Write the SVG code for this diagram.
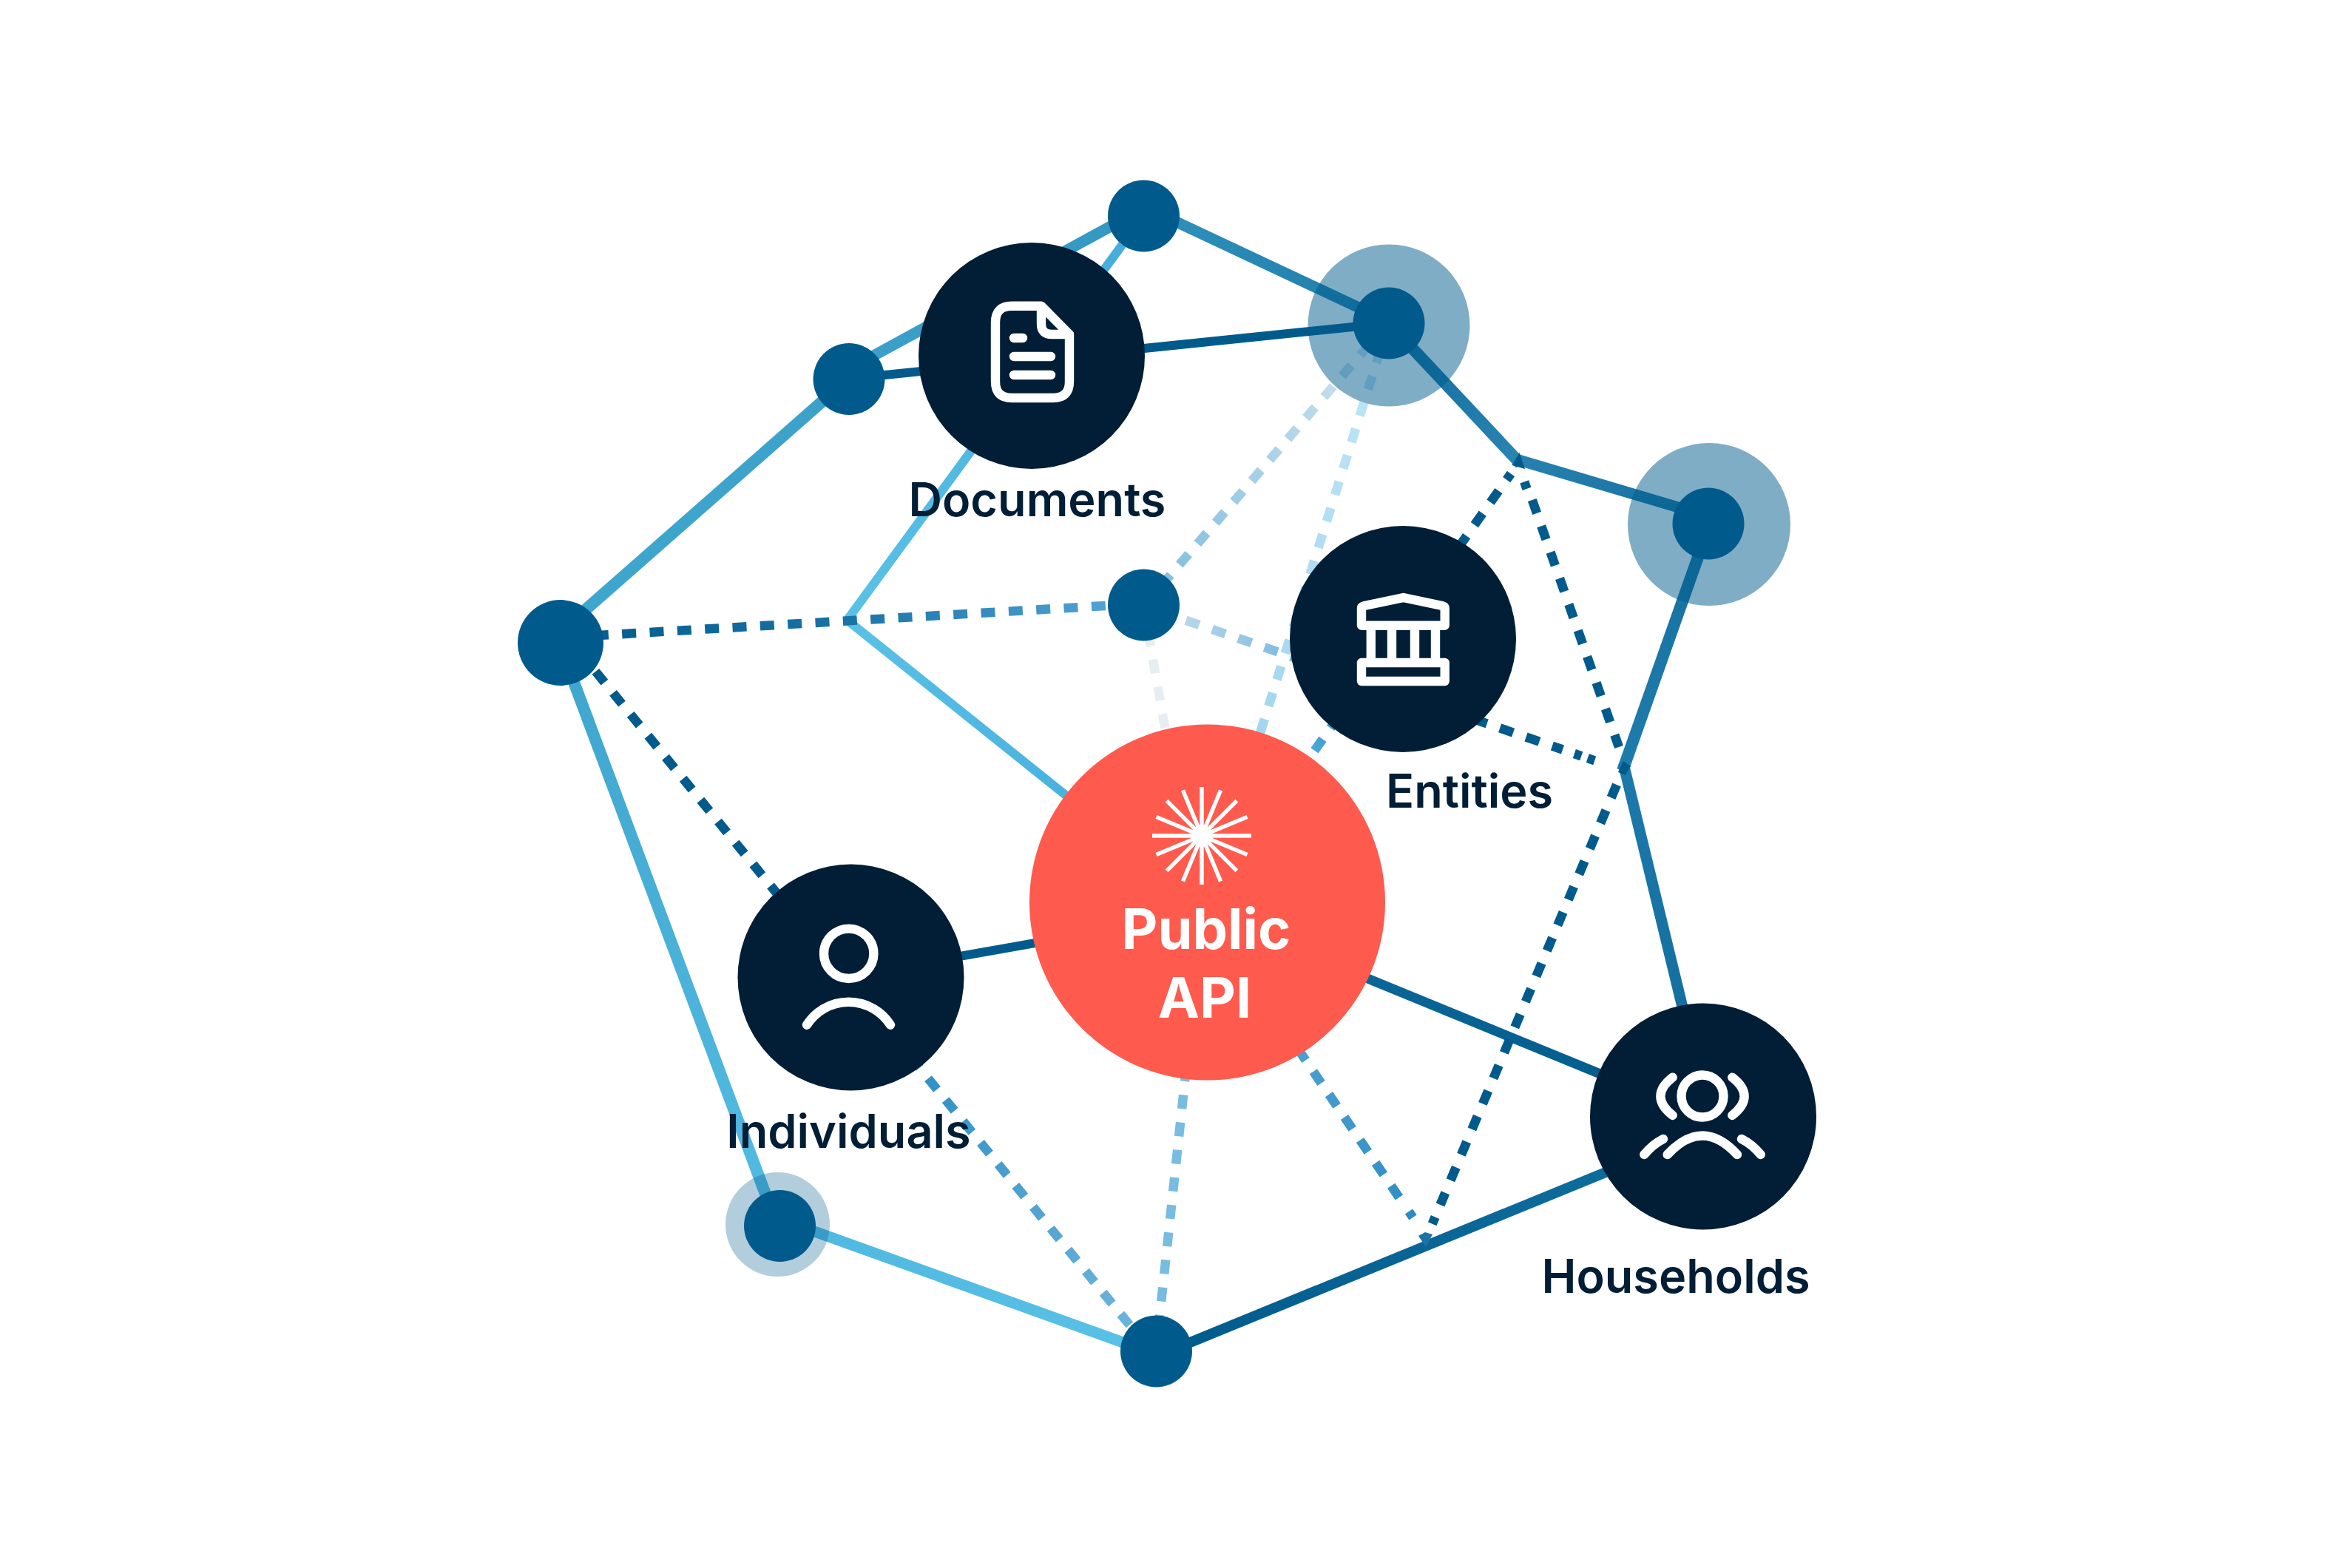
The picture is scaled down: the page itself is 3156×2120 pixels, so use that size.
<svg xmlns="http://www.w3.org/2000/svg" width="3156" height="2120" viewBox="0 0 3156 2120">
<style>
.s{fill:none;stroke-linecap:butt}
.d{fill:none;stroke-width:12.5;stroke-dasharray:19 18.4}
.dot{fill:#005B8C}
.big{fill:#011E36}
.halo{fill:#005B8C;opacity:.5}
.ic{fill:none;stroke:#fff;stroke-width:12.4;stroke-linecap:round;stroke-linejoin:round}
.ray{stroke:#fff;stroke-width:5.5;fill:none}
.lb{font-family:Inter,"Liberation Sans",sans-serif;font-weight:600;font-size:63px;fill:#011E36;text-anchor:middle}
.api{font-family:Inter,"Liberation Sans",sans-serif;font-weight:700;font-size:75.500px;fill:#fff;text-anchor:middle}
</style>
<defs>
<linearGradient id="g1" gradientUnits="userSpaceOnUse" x1="758" y1="854" x2="1148" y2="511"><stop offset="0" stop-color="#3FA7CF"/><stop offset="1" stop-color="#3CA1C9"/></linearGradient>
<linearGradient id="g2" gradientUnits="userSpaceOnUse" x1="1148" y1="499" x2="1546" y2="282"><stop offset="0" stop-color="#3CA1C9"/><stop offset="1" stop-color="#3397C1"/></linearGradient>
<linearGradient id="g3" gradientUnits="userSpaceOnUse" x1="1546" y1="279" x2="1878" y2="435"><stop offset="0" stop-color="#2F92BC"/><stop offset="1" stop-color="#1F7CA9"/></linearGradient>
<linearGradient id="g4" gradientUnits="userSpaceOnUse" x1="1878" y1="437" x2="2054" y2="625"><stop offset="0" stop-color="#0F6A9B"/><stop offset="1" stop-color="#2A85B3"/></linearGradient>
<linearGradient id="g5" gradientUnits="userSpaceOnUse" x1="2054" y1="622" x2="2310" y2="698"><stop offset="0" stop-color="#2681AF"/><stop offset="1" stop-color="#1670A0"/></linearGradient>
<linearGradient id="g6" gradientUnits="userSpaceOnUse" x1="2312" y1="708" x2="2196" y2="1037"><stop offset="0" stop-color="#1670A0"/><stop offset="1" stop-color="#1E7CAB"/></linearGradient>
<linearGradient id="g7" gradientUnits="userSpaceOnUse" x1="2196" y1="1037" x2="2311" y2="1510"><stop offset="0" stop-color="#1C79A9"/><stop offset="1" stop-color="#106B9C"/></linearGradient>
<linearGradient id="g8" gradientUnits="userSpaceOnUse" x1="1546" y1="292" x2="1145" y2="839"><stop offset="0" stop-color="#44ACDC"/><stop offset="1" stop-color="#5AC1E6"/></linearGradient>
<linearGradient id="g9" gradientUnits="userSpaceOnUse" x1="1145" y1="838" x2="1632" y2="1228"><stop offset="0" stop-color="#5AC1E6"/><stop offset="1" stop-color="#3FA8DA"/></linearGradient>
<linearGradient id="g10" gradientUnits="userSpaceOnUse" x1="756" y1="869" x2="1051" y2="1657"><stop offset="0" stop-color="#3FA5CD"/><stop offset="1" stop-color="#54BBE2"/></linearGradient>
<linearGradient id="g11" gradientUnits="userSpaceOnUse" x1="1054" y1="1648" x2="1563" y2="1831"><stop offset="0" stop-color="#4FB8E0"/><stop offset="1" stop-color="#5AC1E6"/></linearGradient>
<linearGradient id="g12" gradientUnits="userSpaceOnUse" x1="1563" y1="1834" x2="2303" y2="1531"><stop offset="0" stop-color="#005B8C"/><stop offset="1" stop-color="#11709F"/></linearGradient>
<linearGradient id="g13" gradientUnits="userSpaceOnUse" x1="1632" y1="1234" x2="2303" y2="1509"><stop offset="0" stop-color="#106B9D"/><stop offset="1" stop-color="#005B8C"/></linearGradient>
<linearGradient id="d1" gradientUnits="userSpaceOnUse" x1="758" y1="862" x2="1546" y2="816"><stop offset="0" stop-color="#005B8C"/><stop offset=".5" stop-color="#1A73A8"/><stop offset="1" stop-color="#59A9DA"/></linearGradient>
<linearGradient id="d2" gradientUnits="userSpaceOnUse" x1="758" y1="850" x2="1563" y2="1835"><stop offset="0" stop-color="#005B8C"/><stop offset=".45" stop-color="#005B8C"/><stop offset=".6" stop-color="#2E8FC6"/><stop offset="1" stop-color="#74B8DE"/></linearGradient>
<linearGradient id="d3" gradientUnits="userSpaceOnUse" x1="1546" y1="820" x2="1878" y2="435"><stop offset="0" stop-color="#7DBBDF"/><stop offset="1" stop-color="#D5E7F0"/></linearGradient>
<linearGradient id="d4" gradientUnits="userSpaceOnUse" x1="1546" y1="819" x2="2196" y2="1042"><stop offset="0" stop-color="#D0E3EE"/><stop offset=".3" stop-color="#7DBBDF"/><stop offset=".7" stop-color="#005B8C"/><stop offset="1" stop-color="#005B8C"/></linearGradient>
<linearGradient id="d5" gradientUnits="userSpaceOnUse" x1="1878" y1="437" x2="1632" y2="1220"><stop offset="0" stop-color="#C1E6F7"/><stop offset="1" stop-color="#96D0EC"/></linearGradient>
<linearGradient id="d6" gradientUnits="userSpaceOnUse" x1="2054" y1="625" x2="1632" y2="1220"><stop offset="0" stop-color="#005B8C"/><stop offset=".4" stop-color="#005B8C"/><stop offset=".65" stop-color="#4BA6D8"/><stop offset="1" stop-color="#67B2DC"/></linearGradient>
<linearGradient id="d7" gradientUnits="userSpaceOnUse" x1="1620" y1="1220" x2="1930" y2="1675"><stop offset="0" stop-color="#62B0DC"/><stop offset="1" stop-color="#2B8BC3"/></linearGradient>
</defs>
<rect width="3156" height="2120" fill="#fff"/>
<g id="connectors">
<line class="s" stroke="url(#g1)" stroke-width="16" x1="758" y1="854" x2="1148" y2="511"/>
<line class="s" stroke="url(#g2)" stroke-width="15" x1="1148" y1="499" x2="1546" y2="282"/>
<line class="s" stroke="url(#g3)" stroke-width="15" x1="1546" y1="279" x2="1878" y2="435"/>
<line class="s" stroke="url(#g4)" stroke-width="16" x1="1878" y1="437" x2="2056" y2="627"/>
<line class="s" stroke="url(#g5)" stroke-width="15" x1="2052" y1="621.500" x2="2310" y2="698"/>
<line class="s" stroke="url(#g6)" stroke-width="16" x1="2312" y1="708" x2="2194" y2="1042"/>
<line class="s" stroke="url(#g7)" stroke-width="15" x1="2195" y1="1032" x2="2311" y2="1510"/>
<line class="s" stroke="#005B8C" stroke-width="12" x1="1148" y1="512" x2="1878" y2="437"/>
<line class="s" stroke="url(#g8)" stroke-width="12" x1="1546" y1="292" x2="1145" y2="839"/>
<line class="s" stroke="url(#g9)" stroke-width="12" x1="1145" y1="838" x2="1632" y2="1228"/>
<line class="s" stroke="#005B8C" stroke-width="12" x1="1150" y1="1319" x2="1632" y2="1234"/>
<line class="s" stroke="url(#g13)" stroke-width="13" x1="1632" y1="1234" x2="2303" y2="1509"/>
<line class="s" stroke="url(#g10)" stroke-width="16" x1="756" y1="869" x2="1051" y2="1657"/>
<line class="s" stroke="url(#g11)" stroke-width="15" x1="1054" y1="1648" x2="1563" y2="1831"/>
<line class="s" stroke="url(#g12)" stroke-width="14" x1="1563" y1="1834" x2="2303" y2="1531"/>
<line class="d" stroke="url(#d1)" stroke-dashoffset="-8.500" x1="758" y1="862" x2="1546" y2="816"/>
<line class="d" stroke="url(#d2)" x1="758" y1="850" x2="1563" y2="1835"/>
<line class="d" stroke="url(#d3)" x1="1546" y1="820" x2="1878" y2="435"/>
<line class="d" stroke="url(#d4)" stroke-dashoffset="-23.500" x1="1546" y1="819" x2="2113" y2="1013.500"/>
<line class="s" stroke="#005B8C" stroke-width="12.500" stroke-dasharray="10 9 10" x1="2128.800" y1="1019" x2="2156.300" y2="1028.400"/>
<line class="d" stroke="#E6EEF1" x1="1546" y1="818" x2="1578" y2="1000"/>
<line class="d" stroke="url(#d5)" x1="1878" y1="437" x2="1632" y2="1220"/>
<line class="d" stroke="url(#d6)" x1="2026.400" y1="663.700" x2="1632" y2="1220"/>
<line class="s" stroke="#005B8C" stroke-width="12.500" x1="2043" y1="640.500" x2="2037.200" y2="648.600"/>
<line class="d" stroke="#005B8C" x1="2071.800" y1="676" x2="2189" y2="1010"/>
<line class="s" stroke="#005B8C" stroke-width="12.500" x1="2061.200" y1="651.400" x2="2064.500" y2="660.900"/>
<line class="d" stroke="#005B8C" x1="2186" y1="1061" x2="1947.500" y2="1629"/>
<line class="s" stroke="#005B8C" stroke-width="12.500" x1="1940.600" y1="1645.500" x2="1936.700" y2="1654.700"/>
<line class="d" stroke="url(#d7)" stroke-dashoffset="-15" x1="1620" y1="1220" x2="1896" y2="1625"/>
<line class="s" stroke="#2B8BC3" stroke-width="12.500" x1="1905" y1="1638" x2="1910.500" y2="1646"/>
<line class="d" stroke="#78BCE1" x1="1628" y1="1220" x2="1563" y2="1827"/>
<polygon fill="#005B8C" points="2054.600,612 2044.400,629 2062,634"/>
<polygon fill="#005B8C" points="2195,1029 2188,1044 2198,1048 2205,1036"/>
<polygon fill="#1D72A6" points="1918,1671 1927,1666 1937,1669 1928,1686"/>
</g>
<g id="hub-top"><circle class="halo" cx="1878" cy="440" r="109.500"/><circle class="dot" cx="1878" cy="437" r="48.500"/></g>
<g id="hub-right"><circle class="halo" cx="2311" cy="709" r="110"/><circle class="dot" cx="2310" cy="708" r="48.500"/></g>
<g id="hub-bottom-left"><circle class="halo" style="opacity:.3" cx="1051.500" cy="1655.500" r="70.500"/><circle class="dot" cx="1054.500" cy="1657.500" r="48.500"/></g>
<g id="node-top"><circle class="dot" cx="1546.500" cy="292" r="48.500"/></g>
<g id="node-upper-left"><circle class="dot" cx="1148" cy="512.500" r="48.500"/></g>
<g id="node-middle"><circle class="dot" cx="1546.500" cy="818" r="48.500"/></g>
<g id="node-left"><circle class="dot" cx="758" cy="869" r="58"/></g>
<g id="node-bottom"><circle class="dot" cx="1563.500" cy="1827" r="48.500"/></g>
<g id="documents">
<circle class="big" cx="1395" cy="481" r="153"/>
<path class="ic" d="M1408 413.700H1368Q1346 413.700 1346 436V516Q1346 538 1368 538H1424Q1446 538 1446 516V452L1408 413.700V438Q1408 452 1422 452H1446"/>
<path class="ic" d="M1371 457H1383M1371 482H1421M1371 507H1421"/>
<text class="lb" x="1402.500" y="698">Documents</text>
</g>
<g id="entities">
<circle class="big" cx="1897" cy="864" r="153"/>
<path class="ic" d="M1841 822Q1841 820 1845 819L1897.700 808L1950 819Q1953.700 820 1953.700 822V845.700H1841Z"/>
<path class="ic" d="M1853.800 852V890M1882 852V890M1913 852V890M1941 852V890"/>
<rect class="ic" x="1841" y="896" width="112.700" height="25"/>
<text class="lb" x="1987" y="1092">Entities</text>
</g>
<g id="individuals">
<circle class="big" cx="1150.500" cy="1321.500" r="153"/>
<circle class="ic" cx="1147.700" cy="1289.300" r="33.700"/>
<path class="ic" d="M1091 1385.700A67 67 0 0 1 1204 1385.700"/>
<text class="lb" x="1147.500" y="1551.500">Individuals</text>
</g>
<g id="households">
<circle class="big" cx="2303" cy="1509.500" r="153"/>
<circle class="ic" cx="2302" cy="1482" r="28.500"/>
<path class="ic" d="M2261.700 1456.700Q2229 1482 2261.700 1508M2342.300 1456.700Q2375 1482 2342.300 1508"/>
<path class="ic" d="M2254.700 1561Q2302 1510 2349 1561M2223.300 1561Q2235 1547 2249 1540M2380.700 1561Q2369 1547 2355 1540"/>
<text class="lb" x="2266" y="1748">Households</text>
</g>
<g id="public-api">
<circle cx="1632.500" cy="1220" r="240.500" fill="#FF5A4E"/>
<g class="ray" transform="translate(1625 1130)">
<path d="M-67 0H67M0 -66V66M-47.400 -47.400L47.400 47.400M-47.400 47.400L47.400 -47.400M-61.500 -25.500L61.500 25.500M-61.500 25.500L61.500 -25.500M-25.500 -61.500L25.500 61.500M-25.500 61.500L25.500 -61.500"/>
</g>
<text class="api" x="1631" y="1283">Public</text>
<text class="api" x="1629" y="1375.500">API</text>
</g>
</svg>
